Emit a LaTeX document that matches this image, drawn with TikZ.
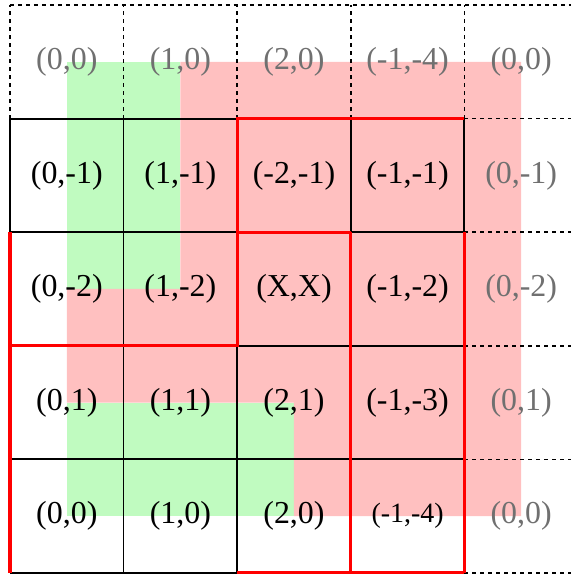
\documentclass[tikz,border=0pt]{standalone}
\usepackage{fontspec}
\setmainfont{Liberation Serif}
\usepackage{xcolor}
\definecolor{keepfill}{HTML}{C0FBC0}
\definecolor{dropfill}{HTML}{FFC0C0}
\definecolor{ghost}{HTML}{707070}
\tikzset{
  gridline/.style={draw=black, line width=0.9pt},
  ghostline/.style={draw=black, line width=0.8pt, dash pattern=on 2pt off 2pt},
  window/.style={draw=red, line width=1.6pt, line join=miter},
  cell/.style={font=\fontsize{16}{18}\selectfont, inner sep=0pt, anchor=center},
  ghostcell/.style={cell, text=ghost},
  smallcell/.style={cell, font=\fontsize{14}{16}\selectfont}
}

\begin{document}
\begin{tikzpicture}[x=2cm,y=2cm]
\path[use as bounding box] (-0.088,-0.009) rectangle (4.934,5.044);

% shaded regions
\fill[keepfill] (0.5,2.5) rectangle (1.5,4.5);
\fill[keepfill] (0.5,0.5) rectangle (2.5,1.5);
\fill[dropfill] (1.5,4.5) -- (4.5,4.5) -- (4.5,0.5) -- (2.5,0.5) -- (2.5,1.5)
  -- (0.5,1.5) -- (0.5,2.5) -- (1.5,2.5) -- cycle;

% grid
\draw[gridline, step=2cm] (0,0) grid (4,4);
\draw[ghostline] (0,5) -- (5,5);
\draw[ghostline] (0,4) -- (0,5) (1,4) -- (1,5) (2,4) -- (2,5) (3,4) -- (3,5) (4,4) -- (4,5);
\draw[ghostline] (4,4) -- (5,4) (4,3) -- (5,3) (4,2) -- (5,2) (4,1) -- (5,1) (4,0) -- (5,0);

% red windows
\draw[window] (0,0) -- (0,3);
\draw[window] (0,2) -- (2,2) -- (2,4) -- (4,4);
\draw[window] (2,3) -- (3,3);
\draw[window] (3,0) -- (3,3);
\draw[window] (4,0) -- (4,3);
\draw[window] (2,0) -- (4,0);

% padded row on top
\node[ghostcell] (t0) at (0.5,4.5) {(0,0)};
\node[ghostcell] (t1) at (1.5,4.5) {(1,0)};
\node[ghostcell] (t2) at (2.5,4.5) {(2,0)};
\node[ghostcell] (t3) at (3.5,4.5) {(-1,-4)};
\node[ghostcell] (t4) at (4.5,4.5) {(0,0)};

\node[cell] (a0) at (0.5,3.5) {(0,-1)};
\node[cell] (a1) at (1.5,3.5) {(1,-1)};
\node[cell] (a2) at (2.5,3.5) {(-2,-1)};
\node[cell] (a3) at (3.5,3.5) {(-1,-1)};
\node[ghostcell] (a4) at (4.5,3.5) {(0,-1)};

\node[cell] (b0) at (0.5,2.5) {(0,-2)};
\node[cell] (b1) at (1.5,2.5) {(1,-2)};
\node[cell] (b2) at (2.5,2.5) {(X,X)};
\node[cell] (b3) at (3.5,2.5) {(-1,-2)};
\node[ghostcell] (b4) at (4.5,2.5) {(0,-2)};

\node[cell] (c0) at (0.5,1.5) {(0,1)};
\node[cell] (c1) at (1.5,1.5) {(1,1)};
\node[cell] (c2) at (2.5,1.5) {(2,1)};
\node[cell] (c3) at (3.5,1.5) {(-1,-3)};
\node[ghostcell] (c4) at (4.5,1.5) {(0,1)};

\node[cell] (d0) at (0.5,0.5) {(0,0)};
\node[cell] (d1) at (1.5,0.5) {(1,0)};
\node[cell] (d2) at (2.5,0.5) {(2,0)};
\node[smallcell] (d3) at (3.5,0.5) {(-1,-4)};
\node[ghostcell] (d4) at (4.5,0.5) {(0,0)};
\end{tikzpicture}
\end{document}
